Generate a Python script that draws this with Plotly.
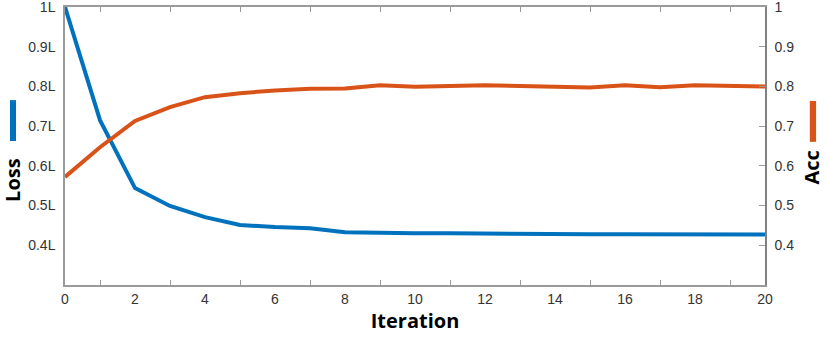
import plotly.graph_objs as go

# Iterations
iters = list(range(21))

# Loss (left axis, scaled by L)
loss = [1.0, 0.715, 0.544, 0.499, 0.471, 0.451, 0.446, 0.443, 0.433, 0.431, 0.430,
        0.430, 0.429, 0.429, 0.429, 0.428, 0.428, 0.428, 0.428, 0.427, 0.427]

# Accuracy (right axis)
acc = [0.572, 0.647, 0.713, 0.748, 0.773, 0.783, 0.790, 0.794, 0.795, 0.803, 0.799,
       0.802, 0.803, 0.801, 0.800, 0.797, 0.803, 0.798, 0.803, 0.801, 0.800]

left_ticks = [0.4, 0.5, 0.6, 0.7, 0.8, 0.9, 1.0]
left_labels = ["0.4L", "0.5L", "0.6L", "0.7L", "0.8L", "0.9L", "1L"]
right_labels = ["0.4", "0.5", "0.6", "0.7", "0.8", "0.9", "1"]
x_major = list(range(0, 21, 2))
x_minor = list(range(1, 21, 2))

BLUE = "#0072BD"
ORANGE = "#D95319"
AXIS = "#9a9a9a"
TICKFONT = dict(family="Liberation Sans", size=14, color="#333333")
TITLEFONT = dict(family="Open Sans", size=20, color="#000000")

fig = go.Figure()
fig.add_trace(go.Scatter(x=iters, y=loss, mode="lines", name="Loss",
                         line=dict(color=BLUE, width=4)))
fig.add_trace(go.Scatter(x=iters, y=acc, mode="lines", name="Acc", yaxis="y2",
                         line=dict(color=ORANGE, width=4)))

fig.update_layout(
    width=830, height=338,
    margin=dict(l=65, r=65, t=7, b=53),
    paper_bgcolor="white", plot_bgcolor="white",
    showlegend=False,
    xaxis=dict(range=[0, 20], tickvals=x_major, ticks="", showgrid=False, zeroline=False,
               showline=True, linecolor=AXIS, linewidth=1.5, mirror="ticks", automargin=False,
               minor=dict(tickvals=x_minor, ticks="inside", ticklen=5, tickcolor=AXIS),
               tickfont=TICKFONT,
               title=dict(text="<b>Iteration</b>", font=TITLEFONT, standoff=6)),
    yaxis=dict(range=[0.3, 1.0], tickvals=left_ticks, ticktext=left_labels, ticks="",
               showgrid=False, zeroline=False, showline=True, linecolor=AXIS, linewidth=1.5,
               automargin=False, ticklabeloverflow="allow", ticklabelstandoff=5,
               tickfont=TICKFONT),
    yaxis2=dict(range=[0.3, 1.0], tickvals=left_ticks, ticktext=right_labels,
                overlaying="y", side="right", ticks="inside", ticklen=6, tickcolor=AXIS,
                showgrid=False, zeroline=False, showline=True, linecolor="#808080", linewidth=1.5,
                automargin=False, ticklabeloverflow="allow", ticklabelstandoff=5,
                tickfont=TICKFONT),
)

# axis titles placed like the original
fig.add_annotation(text="<b>Loss</b>", xref="paper", yref="paper", x=-0.0743, y=0.378,
                   xanchor="center", yanchor="middle",
                   textangle=-90, showarrow=False, font=TITLEFONT)
fig.add_annotation(text="<b>Acc</b>", xref="paper", yref="paper", x=1.066, y=0.423,
                   xanchor="center", yanchor="middle",
                   textangle=-90, showarrow=False, font=TITLEFONT)

# colour keys next to the titles
fig.add_shape(type="rect", xref="paper", yref="paper", x0=-0.0786, x1=-0.07, y0=0.518, y1=0.665,
              fillcolor=BLUE, line_width=0)
fig.add_shape(type="rect", xref="paper", yref="paper", x0=1.064, x1=1.073, y0=0.515, y1=0.662,
              fillcolor=ORANGE, line_width=0)

fig.write_html("out.html", config={"displayModeBar": False},
               post_script="document.body.style.margin='0';")
